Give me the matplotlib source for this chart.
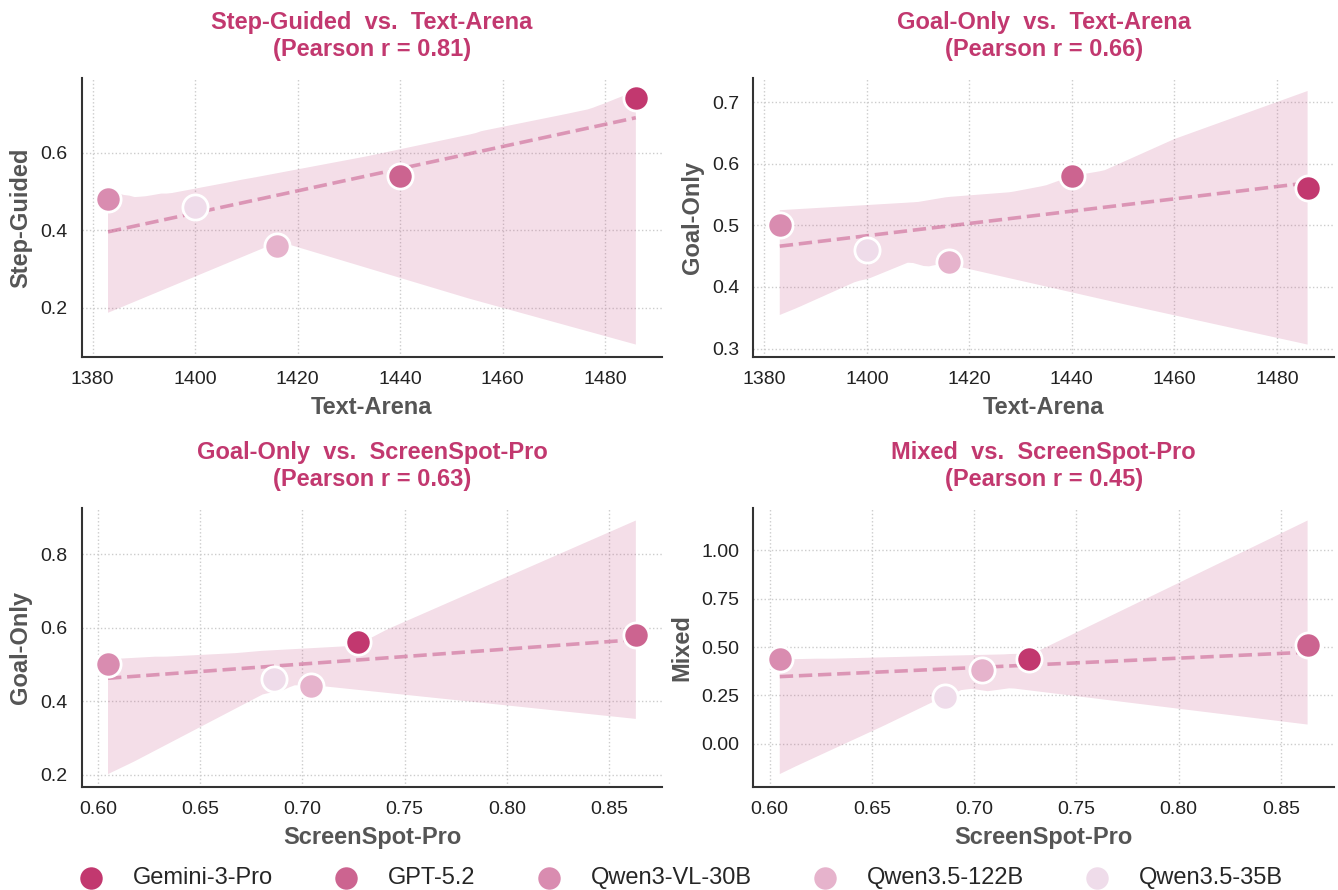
import matplotlib
matplotlib.use('Agg')
import matplotlib.pyplot as plt
import numpy as np
import pandas as pd
import seaborn as sns

models = ['Gemini-3-Pro', 'GPT-5.2', 'Qwen3-VL-30B', 'Qwen3.5-122B', 'Qwen3.5-35B']
colors = ['#C2386F', '#CC6490', '#D98CB0', '#E6B3CC', '#EFDCEA']

text_arena = [1486, 1440, 1383, 1416, 1400]
screenspot_pro = [0.727, 0.863, 0.605, 0.704, 0.686]
step_guided = [0.74, 0.54, 0.48, 0.36, 0.46]
goal_only = [0.56, 0.58, 0.50, 0.44, 0.46]
mixed = [0.44, 0.51, 0.44, 0.38, 0.24]

panels = [
    ('Text-Arena', text_arena, 'Step-Guided', step_guided),
    ('Text-Arena', text_arena, 'Goal-Only', goal_only),
    ('ScreenSpot-Pro', screenspot_pro, 'Goal-Only', goal_only),
    ('ScreenSpot-Pro', screenspot_pro, 'Mixed', mixed),
]

sns.set_style('white')
plt.rcParams['font.family'] = ['Liberation Sans', 'DejaVu Sans']

fig, axes = plt.subplots(2, 2, figsize=(13.38, 8.9), dpi=100)
fig.subplots_adjust(left=0.061, right=0.997, top=0.912, bottom=0.116,
                    wspace=0.157, hspace=0.54)

line_col = '#C85A8C'
for ax, (xname, xs, yname, ys) in zip(axes.flat, panels):
    df = pd.DataFrame({'x': xs, 'y': ys, 'model': models})
    r = np.corrcoef(xs, ys)[0, 1]
    sns.regplot(data=df, x='x', y='y', ax=ax, scatter=False, color=line_col,
                seed=3, line_kws=dict(ls='--', lw=2.6, alpha=0.55))
    for coll in ax.collections:
        coll.set_alpha(0.2)
        coll.set_edgecolor('none')
    for m, c in zip(models, colors):
        sub = df[df.model == m]
        ax.scatter(sub.x, sub.y, s=330, color=c, edgecolor='white',
                   linewidth=2, zorder=5, label=m)
    ax.set_title(f'{yname}  vs.  {xname}\n(Pearson r = {r:.2f})',
                 fontsize=17, fontweight='bold', color='#C2386F', pad=16,
                 linespacing=1.2)
    ax.set_xlabel(xname, fontsize=17, fontweight='bold', color='#555555', labelpad=6)
    ax.set_ylabel(yname, fontsize=17, fontweight='bold', color='#555555', labelpad=6)
    ax.tick_params(axis='both', labelsize=14, colors='#222222', length=0, pad=10)
    ax.grid(True, ls=':', color='#CCCCCC', lw=1)
    ax.set_axisbelow(True)
    for s in ['top', 'right']:
        ax.spines[s].set_visible(False)
    for s in ['left', 'bottom']:
        ax.spines[s].set_color('#333333')
        ax.spines[s].set_linewidth(1.5)

axes[0, 0].set_xticks([1380, 1400, 1420, 1440, 1460, 1480])
axes[0, 1].set_xticks([1380, 1400, 1420, 1440, 1460, 1480])
axes[0, 0].set_yticks([0.2, 0.4, 0.6])
axes[0, 1].set_yticks([0.3, 0.4, 0.5, 0.6, 0.7])
axes[1, 0].set_yticks([0.2, 0.4, 0.6, 0.8])
axes[1, 1].set_yticks([0.0, 0.25, 0.5, 0.75, 1.0])

handles, labels = axes[0, 0].get_legend_handles_labels()
fig.legend(handles, labels, loc='lower center', ncol=5, frameon=False,
           fontsize=17, bbox_to_anchor=(0.509, -0.023), columnspacing=2.6,
           handlelength=1.0, handletextpad=1.28)

fig.savefig('out.png', dpi=100)
